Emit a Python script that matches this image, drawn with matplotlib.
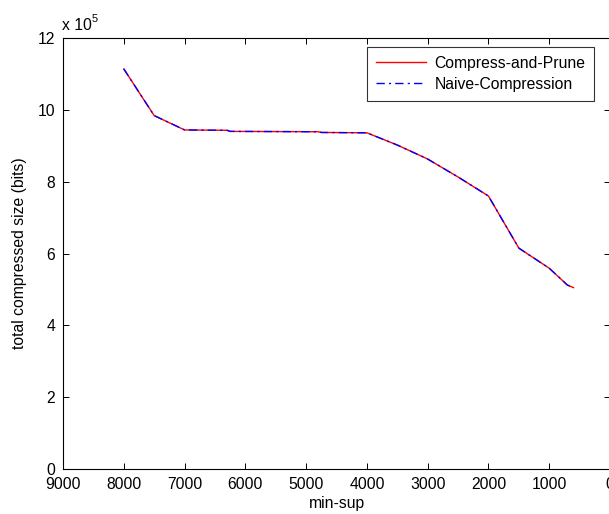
import matplotlib
matplotlib.use("Agg")
import matplotlib.pyplot as plt
from matplotlib.ticker import FuncFormatter

plt.rcParams['font.family'] = ['Liberation Sans', 'DejaVu Sans']

min_sup = [8000, 7500, 7000, 6300, 6250, 4800, 4750, 4000, 3500, 3000, 2500, 2000, 1500, 1000, 700, 600]
compress_and_prune = [1114000, 984000, 944000, 943000, 940000, 939000, 937000, 936000,
                      902000, 863000, 813000, 760000, 615000, 559000, 512000, 505000]
naive_compression = [1114000, 984000, 944000, 943000, 940000, 939000, 937000, 936000,
                     902000, 863000, 813000, 760000, 615000, 559000, 512000, 505000]
labels = ["Compress-and-Prune", "Naive-Compression"]
xticks = [9000, 8000, 7000, 6000, 5000, 4000, 3000, 2000, 1000, 0]
yticks = [0, 200000, 400000, 600000, 800000, 1000000, 1200000]

W, H = 609, 514
fig = plt.figure(figsize=(W / 100, H / 100), dpi=100)
fs = 11.3
left, right, top, bottom = 63, 610, 38, 469
ax = fig.add_axes([left / W, 1 - bottom / H, (right - left) / W, (bottom - top) / H])

ax.plot(min_sup, compress_and_prune, color='#ff0000', lw=1.0, label=labels[0])
ax.plot(min_sup, naive_compression, color='#0000ff', lw=1.0, ls=(0, (6, 3, 1.5, 3)), label=labels[1])

ax.set_xlim(9000, 0)
ax.set_ylim(0, 1200000)
ax.set_xticks(xticks)
ax.set_yticks(yticks)
ax.set_xticklabels([str(v) for v in xticks])
ax.yaxis.set_major_formatter(FuncFormatter(lambda v, p: "%d" % round(v / 1e5)))
ax.tick_params(direction='in', length=4.5, width=0.7, top=True, right=True,
               labelsize=fs, colors='black', pad=5.5)
for s in ax.spines.values():
    s.set_color('black')
    s.set_linewidth(0.8)

ax.set_xlabel("min-sup", fontsize=fs, labelpad=3)
ax.set_ylabel("total compressed size (bits)", fontsize=fs, labelpad=8)

# scale factor text
fig.text(62 / W, 1 - 30 / H, "x 10", fontsize=fs, ha='left', va='baseline')
fig.text(92 / W, 1 - 22 / H, "5", fontsize=fs * 0.7, ha='left', va='baseline')

leg = ax.legend(loc='upper left', bbox_to_anchor=(367 / W, 1 - 47 / H),
                bbox_transform=fig.transFigure, fontsize=fs, frameon=True,
                fancybox=False, borderpad=0.55, labelspacing=0.4,
                handlelength=3.2, handletextpad=0.55, borderaxespad=0)
leg.get_frame().set_edgecolor('black')
leg.get_frame().set_linewidth(0.8)

fig.savefig("out.png", dpi=100)
